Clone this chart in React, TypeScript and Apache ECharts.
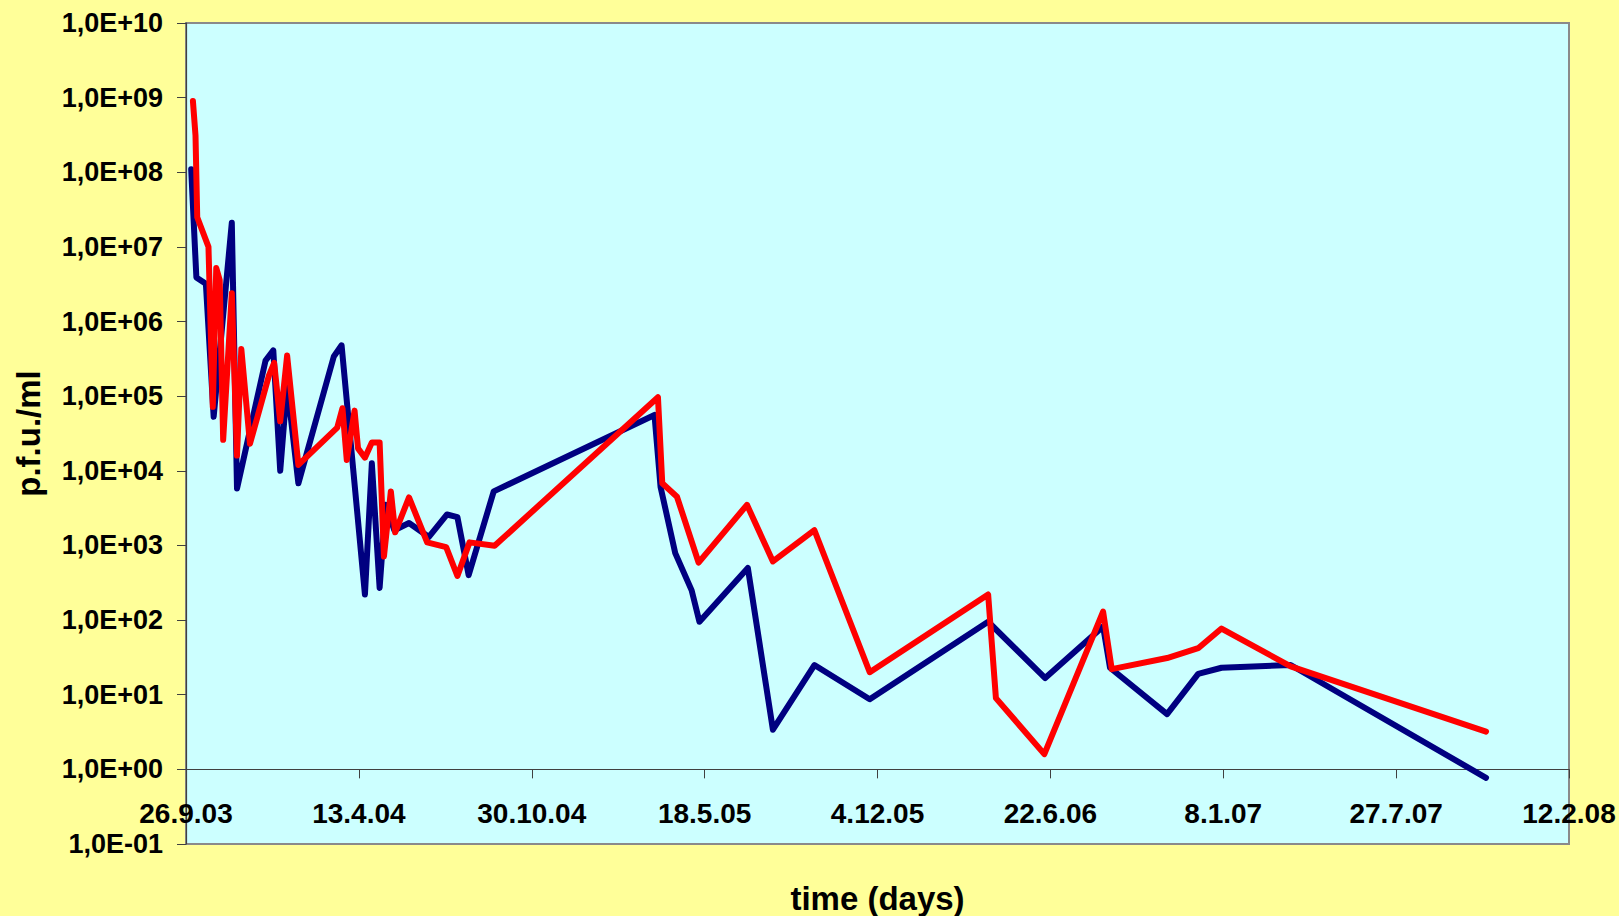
import React, { useEffect, useRef } from "react";
import * as echarts from "echarts";

// Time axis: days counted from 26.9.03, one tick label every 200 days.
const tickLabels = [
  "26.9.03",
  "13.4.04",
  "30.10.04",
  "18.5.05",
  "4.12.05",
  "22.6.06",
  "8.1.07",
  "27.7.07",
  "12.2.08",
];
const tickStepDays = 200;

// Blue series (p.f.u./ml)
const blueDays = [
  6, 12, 23, 32, 53, 59, 92, 101, 109, 117, 130, 171, 180, 207, 215, 224, 231,
  241, 258, 281, 302, 314, 327, 356, 542, 549, 566, 585, 594, 650, 679, 727,
  791, 928, 994, 1061, 1069, 1135, 1171, 1198, 1278, 1504,
];
const blueValues = [
  1.1e8, 3.9e6, 3.2e6, 5.3e4, 2.1e7, 5.8e3, 3.0e5, 4.1e5, 1.0e4, 1.4e5, 6.8e3,
  3.4e5, 4.8e5, 220, 1.26e4, 270, 3.5e3, 1.6e3, 2.0e3, 1.3e3, 2.6e3, 2.4e3, 400,
  5.3e3, 5.6e4, 6.1e3, 790, 250, 95, 500, 3.4, 25, 8.7, 95, 16.7, 82, 23, 5.5,
  19, 23, 25, 0.77,
];

// Red series (p.f.u./ml)
const redDays = [
  8, 11, 13, 26, 31, 35, 39, 43, 53, 59, 64, 74, 96, 102, 109, 117, 130, 175,
  181, 186, 195, 199, 207, 215, 224, 229, 237, 242, 258, 279, 301, 314, 328,
  357, 546, 551, 568, 593, 649, 679, 727, 791, 928, 937, 993, 1061, 1071, 1135,
  1171, 1198, 1278, 1504,
];
const redValues = [
  9.0e8, 3.1e8, 2.5e7, 1.0e7, 7.2e4, 5.2e6, 3.6e6, 2.6e4, 2.4e6, 1.6e4, 4.3e5,
  2.3e4, 1.9e5, 2.8e5, 4.6e4, 3.5e5, 1.2e4, 3.8e4, 6.9e4, 1.4e4, 6.4e4, 2.0e4,
  1.5e4, 2.4e4, 2.4e4, 710, 5.3e3, 1.5e3, 4.4e3, 1.1e3, 950, 390, 1.1e3, 990,
  9.7e4, 6.8e3, 4.5e3, 590, 3.5e3, 610, 1.6e3, 20, 220, 9.0, 1.6, 130, 22, 31,
  42, 77, 24, 3.2,
];

const FONT = "'Liberation Sans', Arial, sans-serif";

const zip = (xs: number[], ys: number[]) => xs.map((x, i) => [x, ys[i]]);

const sciLabel = (v: number) => {
  const e = Math.round(Math.log10(v));
  const sign = e < 0 ? "-" : "+";
  return `1,0E${sign}${String(Math.abs(e)).padStart(2, "0")}`;
};

export default function App() {
  const ref = useRef<HTMLDivElement>(null);

  useEffect(() => {
    if (!ref.current) return;
    const chart = echarts.init(ref.current, undefined, { renderer: "svg" });

    const W = 1619;
    const H = 916;
    const gridLeft = 186;
    const gridTop = 23;
    const gridRight = 50;
    const gridBottom = 72;
    const gridH = H - gridTop - gridBottom;
    const gridW = W - gridLeft - gridRight;
    const decades = 11; // 1E-01 .. 1E+10
    const decadePx = gridH / decades;

    chart.setOption({
      animation: false,
      backgroundColor: "#FFFF99",
      grid: {
        left: gridLeft,
        top: gridTop,
        right: gridRight,
        bottom: gridBottom,
        show: true,
        backgroundColor: "#CCFFFF",
        borderColor: "#8a8a8a",
        borderWidth: 2,
      },
      xAxis: {
        type: "value",
        min: 0,
        max: tickStepDays * (tickLabels.length - 1),
        interval: tickStepDays,
        position: "bottom",
        // the time axis crosses the value axis at 1,0E+00
        offset: -decadePx,
        axisLine: { show: true, lineStyle: { color: "#404040", width: 1.2 } },
        axisTick: { show: true, length: 9, lineStyle: { color: "#404040" } },
        splitLine: { show: false },
        axisLabel: {
          margin: 30,
          showMinLabel: true,
          showMaxLabel: true,
          hideOverlap: false,
          color: "#000",
          fontFamily: FONT,
          fontWeight: "bold",
          fontSize: 28,
          formatter: (v: number) => tickLabels[Math.round(v / tickStepDays)] ?? "",
        },
      },
      yAxis: {
        type: "log",
        logBase: 10,
        min: 0.1,
        max: 1e10,
        interval: 1,
        splitNumber: decades,
        axisLine: { show: true, lineStyle: { color: "#404040", width: 1.2 } },
        axisTick: { show: true, length: 9, lineStyle: { color: "#404040" } },
        splitLine: { show: false },
        minorTick: { show: false },
        axisLabel: {
          margin: 23,
          showMinLabel: true,
          showMaxLabel: true,
          color: "#000",
          fontFamily: FONT,
          fontWeight: "bold",
          fontSize: 27,
          formatter: sciLabel,
        },
      },
      graphic: [
        {
          type: "text",
          x: 28,
          y: gridTop + gridH / 2,
          rotation: Math.PI / 2,
          style: {
            text: "p.f.u./ml",
            align: "center",
            verticalAlign: "middle",
            fill: "#000",
            fontFamily: FONT,
            fontWeight: "bold",
            fontSize: 33,
          },
        },
        {
          type: "text",
          x: gridLeft + gridW / 2,
          y: 898,
          style: {
            text: "time (days)",
            align: "center",
            verticalAlign: "middle",
            fill: "#000",
            fontFamily: FONT,
            fontWeight: "bold",
            fontSize: 33,
          },
        },
      ],
      series: [
        {
          name: "blue",
          type: "line",
          data: zip(blueDays, blueValues),
          showSymbol: false,
          symbol: "none",
          lineStyle: { color: "#000080", width: 6, join: "round", cap: "round" },
          z: 2,
        },
        {
          name: "red",
          type: "line",
          data: zip(redDays, redValues),
          showSymbol: false,
          symbol: "none",
          lineStyle: { color: "#FF0000", width: 6, join: "round", cap: "round" },
          z: 3,
        },
      ],
    });

    return () => chart.dispose();
  }, []);

  return (
    <div
      ref={ref}
      style={{ position: "fixed", left: 0, top: 0, width: 1619, height: 916 }}
    />
  );
}
